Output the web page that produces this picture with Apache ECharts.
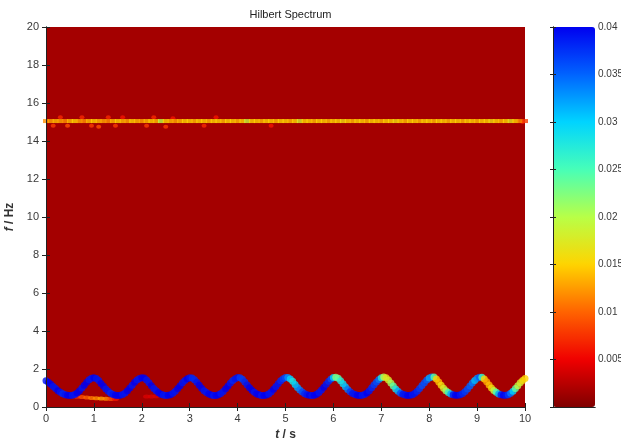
<!DOCTYPE html>
<html>
<head>
<meta charset="utf-8">
<script src="https://cdn.jsdelivr.net/npm/echarts@6/dist/echarts.min.js"></script>
<style>
  html, body { margin: 0; padding: 0; background: #fff; }
  #chart { width: 621px; height: 438px; }
</style>
</head>
<body>
<div id="chart"></div>
<script>
// Hilbert spectrum: instantaneous frequency vs time, coloured by amplitude.

// Slow FM component, sampled every 0.05 s from 0 to 10 s
const curveStep = 0.05;
const curveFreq = [
  1.38, 1.30, 1.20, 1.08, 0.97, 0.86, 0.77, 0.70, 0.65, 0.62,
  0.61, 0.62, 0.66, 0.74, 0.86, 1.00, 1.15, 1.30, 1.43, 1.51,
  1.54, 1.50, 1.39, 1.24, 1.09, 0.95, 0.83, 0.73, 0.66, 0.62,
  0.61, 0.62, 0.66, 0.74, 0.86, 1.00, 1.15, 1.30, 1.42, 1.50,
  1.54, 1.52, 1.42, 1.28, 1.12, 0.97, 0.85, 0.75, 0.67, 0.63,
  0.61, 0.62, 0.65, 0.72, 0.83, 0.97, 1.12, 1.27, 1.40, 1.49,
  1.54, 1.53, 1.44, 1.30, 1.14, 0.99, 0.86, 0.76, 0.68, 0.63,
  0.61, 0.61, 0.64, 0.71, 0.82, 0.96, 1.11, 1.26, 1.39, 1.49,
  1.55, 1.54, 1.46, 1.32, 1.16, 1.01, 0.88, 0.77, 0.69, 0.64,
  0.61, 0.61, 0.63, 0.69, 0.79, 0.93, 1.08, 1.24, 1.38, 1.49,
  1.55, 1.55, 1.48, 1.35, 1.19, 1.03, 0.90, 0.79, 0.70, 0.65,
  0.62, 0.61, 0.62, 0.67, 0.76, 0.89, 1.04, 1.20, 1.35, 1.47,
  1.55, 1.57, 1.51, 1.38, 1.22, 1.06, 0.92, 0.80, 0.71, 0.66,
  0.62, 0.61, 0.62, 0.66, 0.74, 0.86, 1.01, 1.17, 1.32, 1.45,
  1.54, 1.58, 1.54, 1.42, 1.26, 1.10, 0.95, 0.83, 0.73, 0.67,
  0.63, 0.61, 0.62, 0.65, 0.72, 0.83, 0.97, 1.13, 1.28, 1.42,
  1.52, 1.58, 1.58, 1.48, 1.32, 1.15, 0.99, 0.86, 0.76, 0.69,
  0.64, 0.62, 0.62, 0.65, 0.71, 0.81, 0.95, 1.10, 1.26, 1.40,
  1.51, 1.57, 1.57, 1.48, 1.33, 1.16, 1.00, 0.87, 0.77, 0.69,
  0.64, 0.62, 0.62, 0.65, 0.72, 0.83, 0.97, 1.12, 1.27, 1.40,
  1.50
];
const curveAmp = [
  0.039, 0.040, 0.040, 0.039, 0.039, 0.040, 0.039, 0.038, 0.039, 0.040,
  0.040, 0.039, 0.039, 0.040, 0.040, 0.039, 0.040, 0.040, 0.039, 0.039,
  0.040, 0.039, 0.039, 0.040, 0.040, 0.039, 0.039, 0.038, 0.039, 0.040,
  0.040, 0.040, 0.039, 0.039, 0.040, 0.040, 0.039, 0.040, 0.039, 0.039,
  0.040, 0.040, 0.039, 0.039, 0.040, 0.039, 0.039, 0.040, 0.040, 0.039,
  0.039, 0.040, 0.040, 0.039, 0.039, 0.040, 0.040, 0.039, 0.039, 0.040,
  0.039, 0.038, 0.038, 0.039, 0.040, 0.040, 0.039, 0.039, 0.040, 0.040,
  0.039, 0.040, 0.040, 0.039, 0.039, 0.040, 0.040, 0.039, 0.038, 0.039,
  0.039, 0.037, 0.037, 0.038, 0.039, 0.040, 0.040, 0.039, 0.040, 0.040,
  0.039, 0.040, 0.040, 0.039, 0.039, 0.040, 0.039, 0.039, 0.038, 0.037,
  0.036, 0.033, 0.030, 0.028, 0.030, 0.032, 0.034, 0.036, 0.038, 0.039,
  0.040, 0.039, 0.040, 0.040, 0.039, 0.039, 0.040, 0.039, 0.038, 0.036,
  0.030, 0.022, 0.024, 0.027, 0.029, 0.031, 0.034, 0.037, 0.039, 0.039,
  0.040, 0.040, 0.039, 0.039, 0.040, 0.039, 0.038, 0.037, 0.036, 0.034,
  0.028, 0.020, 0.017, 0.018, 0.021, 0.024, 0.028, 0.032, 0.036, 0.039,
  0.039, 0.040, 0.040, 0.039, 0.039, 0.038, 0.037, 0.036, 0.036, 0.035,
  0.032, 0.033, 0.024, 0.015, 0.014, 0.016, 0.018, 0.021, 0.026, 0.032,
  0.039, 0.040, 0.040, 0.039, 0.038, 0.037, 0.036, 0.035, 0.034, 0.031,
  0.033, 0.035, 0.026, 0.015, 0.013, 0.014, 0.016, 0.020, 0.025, 0.032,
  0.039, 0.040, 0.039, 0.037, 0.034, 0.030, 0.024, 0.020, 0.018, 0.016,
  0.015
];

// 15 Hz tone, sampled every 0.1 s
const toneStep = 0.1;
const toneFreq = 15.05;
const toneAmp = [
  0.012, 0.013, 0.014, 0.013, 0.012, 0.014, 0.015, 0.013, 0.012, 0.014,
  0.015, 0.014, 0.013, 0.012, 0.014, 0.015, 0.014, 0.013, 0.015, 0.014,
  0.013, 0.014, 0.015, 0.014, 0.020, 0.015, 0.014, 0.013, 0.014, 0.015,
  0.015, 0.014, 0.015, 0.015, 0.014, 0.015, 0.015, 0.014, 0.015, 0.015,
  0.014, 0.015, 0.019, 0.015, 0.015, 0.014, 0.015, 0.015, 0.014, 0.015,
  0.015, 0.014, 0.015, 0.018, 0.015, 0.015, 0.014, 0.015, 0.015, 0.014,
  0.015, 0.015, 0.016, 0.015, 0.014, 0.015, 0.015, 0.014, 0.015, 0.015,
  0.014, 0.015, 0.015, 0.016, 0.015, 0.014, 0.015, 0.015, 0.014, 0.015,
  0.015, 0.014, 0.015, 0.015, 0.014, 0.015, 0.015, 0.014, 0.015, 0.015,
  0.014, 0.015, 0.015, 0.016, 0.015, 0.014, 0.015, 0.017, 0.015, 0.012,
  0.008
];

// Scattered side-band energy around the 15 Hz tone
const speckT = [0.15, 0.30, 0.45, 0.75, 0.95, 1.10, 1.30, 1.45, 1.60, 2.10, 2.25, 2.50, 2.65, 3.30, 3.55, 4.70, 9.95];
const speckF = [14.80, 15.25, 14.80, 15.25, 14.80, 14.75, 15.25, 14.80, 15.25, 14.80, 15.25, 14.75, 15.20, 14.80, 15.25, 14.80, 15.00];
const speckA = [0.008, 0.007, 0.009, 0.007, 0.008, 0.009, 0.007, 0.008, 0.006, 0.008, 0.007, 0.008, 0.006, 0.007, 0.006, 0.006, 0.006];

// Weak low-frequency residue near the start
const lowT = [0.55, 0.65, 0.75, 0.85, 0.95, 1.05, 1.15, 1.25, 1.35, 1.45, 2.10, 2.20, 2.30];
const lowF = [0.56, 0.54, 0.52, 0.50, 0.48, 0.46, 0.45, 0.43, 0.42, 0.42, 0.55, 0.55, 0.56];
const lowA = [0.005, 0.007, 0.009, 0.010, 0.011, 0.012, 0.013, 0.012, 0.009, 0.006, 0.004, 0.004, 0.004];

// Colour bar ticks
const barTicks = [0.005, 0.01, 0.015, 0.02, 0.025, 0.03, 0.035, 0.04];

// Reversed jet colour map
const jetReversed = ['#800000', '#f00000', '#ff6300', '#ffd400', '#b8ff47', '#47ffb8', '#00d4ff', '#0063ff', '#0000f0'];

const curveData = curveFreq.map((f, i) => [+(i * curveStep).toFixed(2), f, curveAmp[i]]);
const toneData = toneAmp.map((a, i) => [+(i * toneStep).toFixed(2), toneFreq, a]);
const speckData = speckT.map((t, i) => [t, speckF[i], speckA[i]]);
const lowData = lowT.map((t, i) => [t, lowF[i], lowA[i]]);

const labelFont = { fontFamily: 'Liberation Sans, Arial, sans-serif', fontSize: 11, color: '#3a3a3a' };
const frameLine = { show: true, lineStyle: { color: '#222', width: 1 } };
const nameStyle = {
  fontFamily: 'Liberation Sans, Arial, sans-serif', fontSize: 12, fontWeight: 'bold', color: '#333',
  rich: { it: { fontStyle: 'italic', fontWeight: 'bold', fontSize: 12, fontFamily: 'Liberation Sans, Arial, sans-serif', color: '#333' } }
};

const chart = echarts.init(document.getElementById('chart'), null, { renderer: 'canvas' });
chart.setOption({
  animation: false,
  backgroundColor: '#ffffff',
  title: {
    text: 'Hilbert Spectrum',
    left: 285.5,
    textAlign: 'center',
    top: 4,
    textStyle: { fontFamily: 'Liberation Sans, Arial, sans-serif', fontSize: 11, fontWeight: 'normal', color: '#222' }
  },
  grid: [
    { left: 46, top: 27, width: 479, height: 380, show: true, backgroundColor: '#a40000', borderWidth: 0, containLabel: false, outerBoundsMode: 'none' },
    { left: 553, top: 27, width: 42, height: 380, show: false, containLabel: false, outerBoundsMode: 'none' }
  ],
  xAxis: [
    {
      gridIndex: 0, type: 'value', min: 0, max: 10, interval: 1, position: 'bottom', z: 10,
      axisLine: frameLine, splitLine: { show: false },
      axisTick: { inside: true, length: 4, lineStyle: { color: '#222' } },
      axisLabel: Object.assign({ margin: 6 }, labelFont),
      name: '{it|t} / s', nameLocation: 'middle', nameGap: 20, nameTextStyle: nameStyle
    },
    {
      gridIndex: 0, type: 'value', min: 0, max: 10, interval: 1, position: 'top', z: 10,
      axisLine: frameLine, splitLine: { show: false },
      axisTick: { inside: true, length: 4, lineStyle: { color: '#222' } },
      axisLabel: { show: false }
    },
    {
      gridIndex: 1, type: 'value', min: 0, max: 1, position: 'bottom', z: 10,
      axisLine: frameLine, axisTick: { show: false }, axisLabel: { show: false }, splitLine: { show: false }
    },
    {
      gridIndex: 1, type: 'value', min: 0, max: 1, position: 'top', z: 10,
      axisLine: frameLine, axisTick: { show: false }, axisLabel: { show: false }, splitLine: { show: false }
    }
  ],
  yAxis: [
    {
      gridIndex: 0, type: 'value', min: 0, max: 20, interval: 2, position: 'left', z: 10,
      axisLine: frameLine, splitLine: { show: false },
      axisTick: { inside: true, length: 4, lineStyle: { color: '#222' } },
      axisLabel: Object.assign({ margin: 7 }, labelFont),
      name: '{it|f} / Hz', nameLocation: 'middle', nameGap: 24, nameRotate: 90, nameTextStyle: nameStyle
    },
    {
      gridIndex: 0, type: 'value', min: 0, max: 20, interval: 2, position: 'right', z: 10,
      axisLine: frameLine, splitLine: { show: false },
      axisTick: { inside: true, length: 4, lineStyle: { color: '#222' } },
      axisLabel: { show: false }
    },
    {
      gridIndex: 1, type: 'value', min: 0, max: 0.04, interval: 0.005, position: 'right', z: 10,
      axisLine: frameLine, splitLine: { show: false },
      axisTick: { inside: true, length: 3, lineStyle: { color: '#222' } },
      axisLabel: {
        margin: 3, fontFamily: 'Liberation Sans, Arial, sans-serif', fontSize: 10, color: '#3a3a3a',
        formatter: v => (barTicks.some(b => Math.abs(b - v) < 1e-9) ? String(+v.toFixed(3)) : '')
      }
    },
    {
      gridIndex: 1, type: 'value', min: 0, max: 0.04, interval: 0.005, position: 'left', z: 10,
      axisLine: frameLine, splitLine: { show: false },
      axisTick: { inside: true, length: 3, lineStyle: { color: '#222' } },
      axisLabel: { show: false }
    }
  ],
  visualMap: {
    type: 'continuous',
    min: 0,
    max: 0.04,
    dimension: 2,
    seriesIndex: [0, 1, 2, 3],
    calculable: false,
    hoverLink: false,
    orient: 'vertical',
    left: 553,
    top: 27,
    padding: 0,
    itemWidth: 42,
    itemHeight: 380,
    text: null,
    inRange: { color: jetReversed }
  },
  series: [
    {
      type: 'scatter', xAxisIndex: 0, yAxisIndex: 0, data: lowData, clip: true,
      symbol: 'circle', symbolSize: [7, 4], silent: true
    },
    {
      type: 'scatter', xAxisIndex: 0, yAxisIndex: 0, data: speckData, clip: true,
      symbol: 'circle', symbolSize: [5, 4], silent: true
    },
    {
      type: 'scatter', xAxisIndex: 0, yAxisIndex: 0, data: toneData, clip: true,
      symbol: 'rect', symbolSize: [6, 4], silent: true
    },
    {
      type: 'scatter', xAxisIndex: 0, yAxisIndex: 0, data: curveData, clip: true,
      symbol: 'circle', symbolSize: 7, silent: true
    }
  ]
});
</script>
</body>
</html>
